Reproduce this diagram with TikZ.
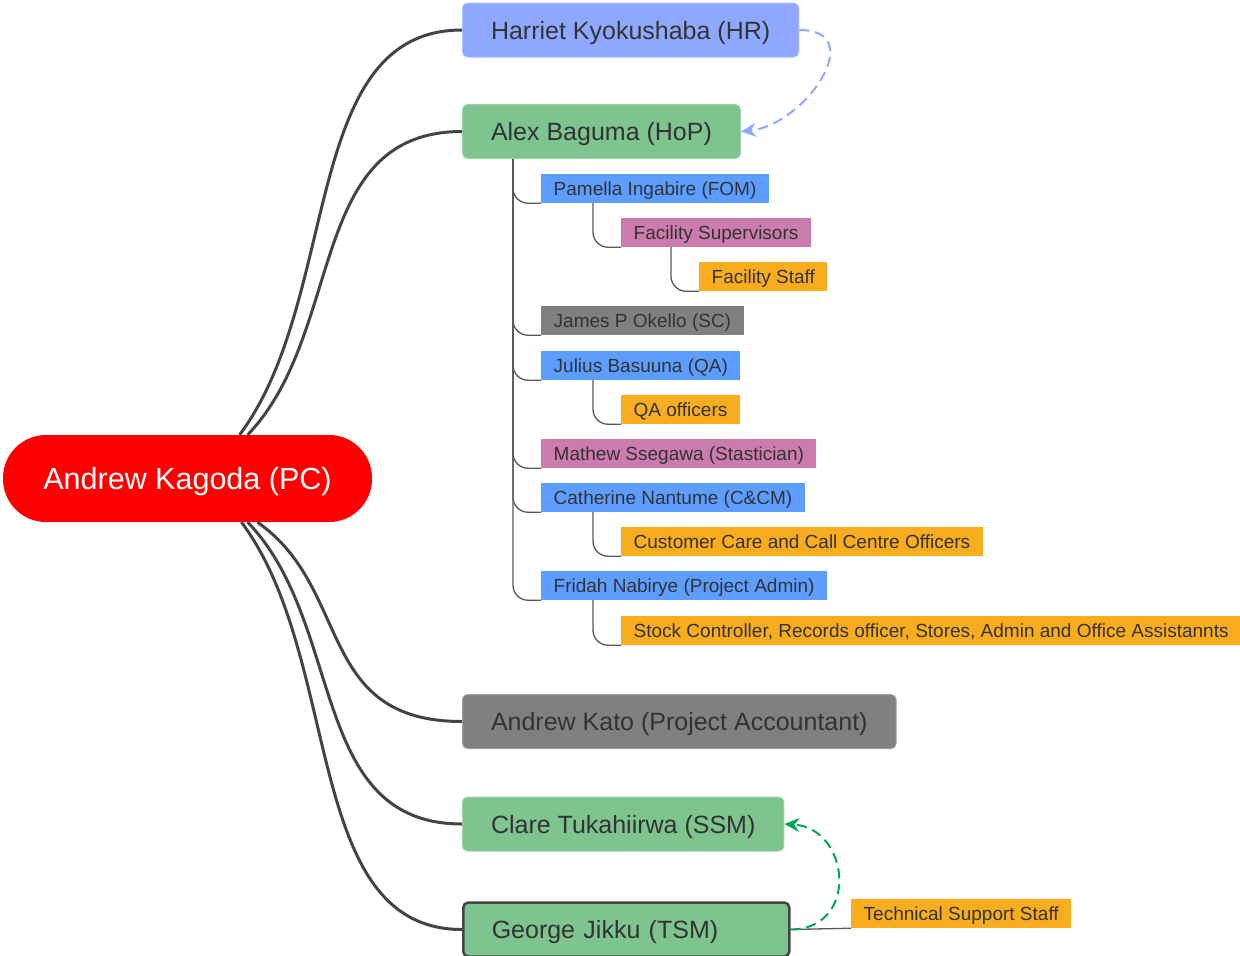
\documentclass[tikz,border=0pt]{standalone}
\usepackage{fontspec}
\setmainfont{Liberation Sans}
\usetikzlibrary{calc,arrows.meta}
\definecolor{hrblue}{HTML}{8FA8FF}
\definecolor{hopgreen}{HTML}{7DC48E}
\definecolor{midgray}{HTML}{808080}
\definecolor{subblue}{HTML}{5C9DFF}
\definecolor{subpink}{HTML}{CC7BAE}
\definecolor{suborange}{HTML}{F8AD1F}
\definecolor{inkgray}{HTML}{333333}
\definecolor{linkgray}{HTML}{444444}
\definecolor{dashgreen}{HTML}{00A651}
\tikzset{
  mainbox/.style={fill=#1,draw=#1!75!white,line width=1pt,rounded corners=5pt,anchor=west,
    minimum height=54pt,inner xsep=28.5pt,inner ysep=0pt,text depth=0pt,text=inkgray,
    font=\fontsize{25}{30}\selectfont},
  subbox/.style={fill=#1,anchor=west,minimum height=29pt,inner xsep=12.5pt,inner ysep=0pt,
    text depth=0pt,text=inkgray,font=\fontsize{19}{22}\selectfont},
  branch/.style={draw=linkgray,line width=3pt},
  stem/.style={draw=linkgray!90,line width=1.3pt,rounded corners=15pt},
  cross/.style={dash pattern=on 10pt off 6pt,line width=2pt,-{Stealth[length=15pt,width=14pt,inset=5pt]}}
}

\begin{document}
\begin{tikzpicture}[x=1pt,y=-1pt]
  \useasboundingbox (0,0) rectangle (1240,956);
  \node [fill=red,text=white,rounded corners=43pt,minimum width=369pt,minimum height=87pt,
    inner sep=0pt,text depth=0pt,font=\fontsize{30.5}{36}\selectfont] (PC) at (187.5,478.5) {Andrew Kagoda (PC)};

  \node [mainbox=hrblue] (HR) at (462,30) {Harriet Kyokushaba (HR)};
  \node [mainbox=hopgreen] (HoP) at (462,131.5) {Alex Baguma (HoP)};
  \node [mainbox=midgray] (PA) at (462,721.5) {Andrew Kato (Project Accountant)};
  \node [mainbox=hopgreen] (SSM) at (462,824) {Clare Tukahiirwa (SSM)};
  \node [mainbox=hopgreen,draw=linkgray,line width=2.5pt,text width=269pt,align=left] (TSM) at (462,929.5) {George Jikku (TSM)};

  \draw [branch] (PC.40) .. controls +(102,-136) and +(-162,0) .. (HR.west);
  \draw [branch] (PC.36) .. controls +(98,-102) and +(-156,0) .. (HoP.west);
  \draw [branch] (PC.-32) .. controls +(95,66) and +(-147,0) .. (PA.west);
  \draw [branch] (PC.-36) .. controls +(98,101) and +(-154,0) .. (SSM.west);
  \draw [branch] (PC.-39) .. controls +(102,136) and +(-160,0) .. (TSM.west);

  \node [subbox=subblue] (FOM) at (541,188.5) {Pamella Ingabire (FOM)};
  \node [subbox=subpink] (FSup) at (621,232.5) {Facility Supervisors};
  \node [subbox=suborange] (FStaff) at (699,276.5) {Facility Staff};
  \node [subbox=midgray] (SC) at (541,320.5) {James P Okello (SC)};
  \node [subbox=subblue] (QA) at (541,365.5) {Julius Basuuna (QA)};
  \node [subbox=suborange] (QAO) at (621,409.5) {QA officers};
  \node [subbox=subpink] (Stat) at (541,453.5) {Mathew Ssegawa (Stastician)};
  \node [subbox=subblue] (CCM) at (541,497.5) {Catherine Nantume (C\&CM)};
  \node [subbox=suborange] (CCO) at (621,541.5) {Customer Care and Call Centre Officers};
  \node [subbox=subblue] (Admin) at (541,585.5) {Fridah Nabirye (Project Admin)};
  \node [subbox=suborange] (Stock) at (621,630.5) {Stock Controller, Records officer, Stores, Admin and Office Assistannts};
  \node [subbox=suborange] (TSS) at (851,913.5) {Technical Support Staff};

  \coordinate (HoPstem) at ($(HoP.south west)+(51,0)$);
  \foreach \kid in {FOM,SC,QA,Stat,CCM,Admin}
    \draw [stem] (HoPstem) |- (\kid.south west);
  \draw [stem] ($(FOM.south west)+(52,0)$) |- (FSup.south west);
  \draw [stem] ($(FSup.south west)+(50,0)$) |- (FStaff.south west);
  \draw [stem] ($(QA.south west)+(52,0)$) |- (QAO.south west);
  \draw [stem] ($(CCM.south west)+(52,0)$) |- (CCO.south west);
  \draw [stem] ($(Admin.south west)+(52,0)$) |- (Stock.south west);
  \draw [stem] (TSM.east) -- (TSS.south west);

  \draw [cross,hrblue] (HR.east) .. controls (870,30) and (805,125) .. (HoP.east);
  \draw [cross,dashgreen] (TSM.east) .. controls (860,929) and (850,828) .. (SSM.east);
\end{tikzpicture}
\end{document}
